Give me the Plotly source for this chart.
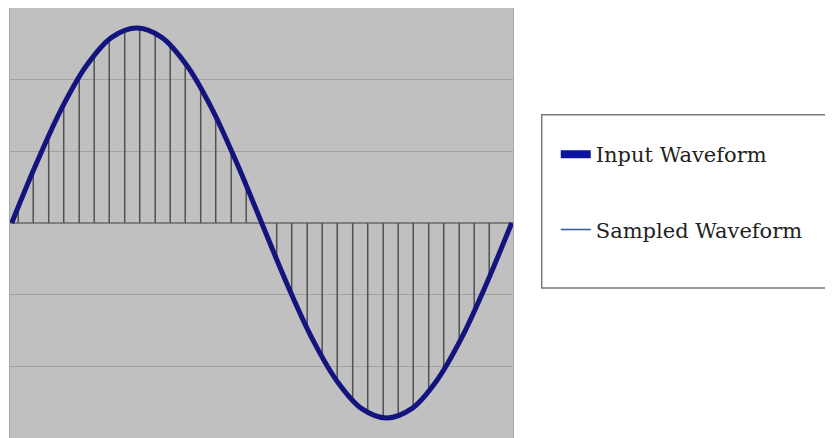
import plotly.graph_objects as go

# input waveform (time in % of one period, amplitude in grid units)
curve_t = [0, 5, 10, 15, 20, 25, 30, 35, 40, 45, 50,
           55, 60, 65, 70, 75, 80, 85, 90, 95, 100]
curve_v = [0.00, 0.84, 1.60, 2.20, 2.59, 2.72, 2.59, 2.20, 1.60, 0.84, 0.00,
           -0.84, -1.60, -2.20, -2.59, -2.72, -2.59, -2.20, -1.60, -0.84, 0.00]

# sampled waveform (vertical sample lines)
sample_t = [1.3, 4.3, 7.4, 10.4, 13.5, 16.5, 19.5, 22.6, 25.6, 28.7, 31.7,
            34.7, 37.8, 40.8, 43.9, 46.9, 50.0, 53.0, 56.0, 59.1, 62.1, 65.1,
            68.2, 71.2, 74.3, 77.3, 80.3, 83.4, 86.4, 89.5, 92.5, 95.5]
sample_v = [0.22, 0.73, 1.22, 1.65, 2.04, 2.34, 2.56, 2.69, 2.72, 2.65, 2.48,
            2.23, 1.89, 1.49, 1.02, 0.53, 0.00, -0.51, -1.00, -1.47, -1.87, -2.21,
            -2.48, -2.64, -2.72, -2.69, -2.57, -2.35, -2.05, -1.67, -1.23, -0.76]

legend_names = ["Input Waveform", "Sampled Waveform"]

# stems: zero -> sample value, separated by gaps
stem_x = []
stem_y = []
for t, v in zip(sample_t, sample_v):
    stem_x += [t, t, None]
    stem_y += [0, v, None]

fig = go.Figure()

fig.add_trace(go.Scatter(
    x=stem_x, y=stem_y, mode="lines",
    line=dict(color="#505050", width=1.5),
    showlegend=False, hoverinfo="skip"
))

fig.add_trace(go.Scatter(
    x=curve_t, y=curve_v, mode="lines",
    line=dict(color="#14147e", width=5, shape="spline"),
    showlegend=False
))

# legend entries
fig.add_trace(go.Scatter(
    x=[None], y=[None], mode="lines", name=legend_names[0],
    line=dict(color="#0a14a0", width=8), legendgroup="a"
))
fig.add_trace(go.Scatter(
    x=[None], y=[None], mode="lines", name=legend_names[1],
    line=dict(color="#3a55a5", width=1.5), legendgroup="b"
))

# the page body adds an 8px offset, so the figure is shrunk to fit the window
fig.update_layout(
    width=825, height=430,
    margin=dict(l=2, r=320, t=0, b=0),
    paper_bgcolor="white",
    plot_bgcolor="#c0c0c0",
    showlegend=True,
    legend=dict(
        x=1.085, y=0.707, xanchor="left", yanchor="top",
        bgcolor="rgba(0,0,0,0)", borderwidth=0,
        traceorder="grouped", tracegroupgap=45,
        font=dict(family="DejaVu Serif", size=21, color="#222222")
    ),
    shapes=[dict(
        type="rect", xref="paper", yref="paper",
        x0=1.0571, x1=1.6336, y0=0.3488, y1=0.7519,
        line=dict(color="#7a7a7a", width=1.5),
        fillcolor="rgba(0,0,0,0)"
    )]
)

fig.update_xaxes(
    range=[-0.34, 100.26], showticklabels=False, showgrid=False,
    zeroline=False, showline=True, mirror=True, linecolor="#a8a8a8", ticks=""
)
fig.update_yaxes(
    range=[-3, 3], dtick=1, showticklabels=False, showgrid=True,
    gridcolor="#a2a2a2", gridwidth=1,
    zeroline=True, zerolinecolor="#7f7f7f", zerolinewidth=1.5,
    showline=True, mirror=True, linecolor="#a8a8a8", ticks=""
)

fig.write_html("out.html")
